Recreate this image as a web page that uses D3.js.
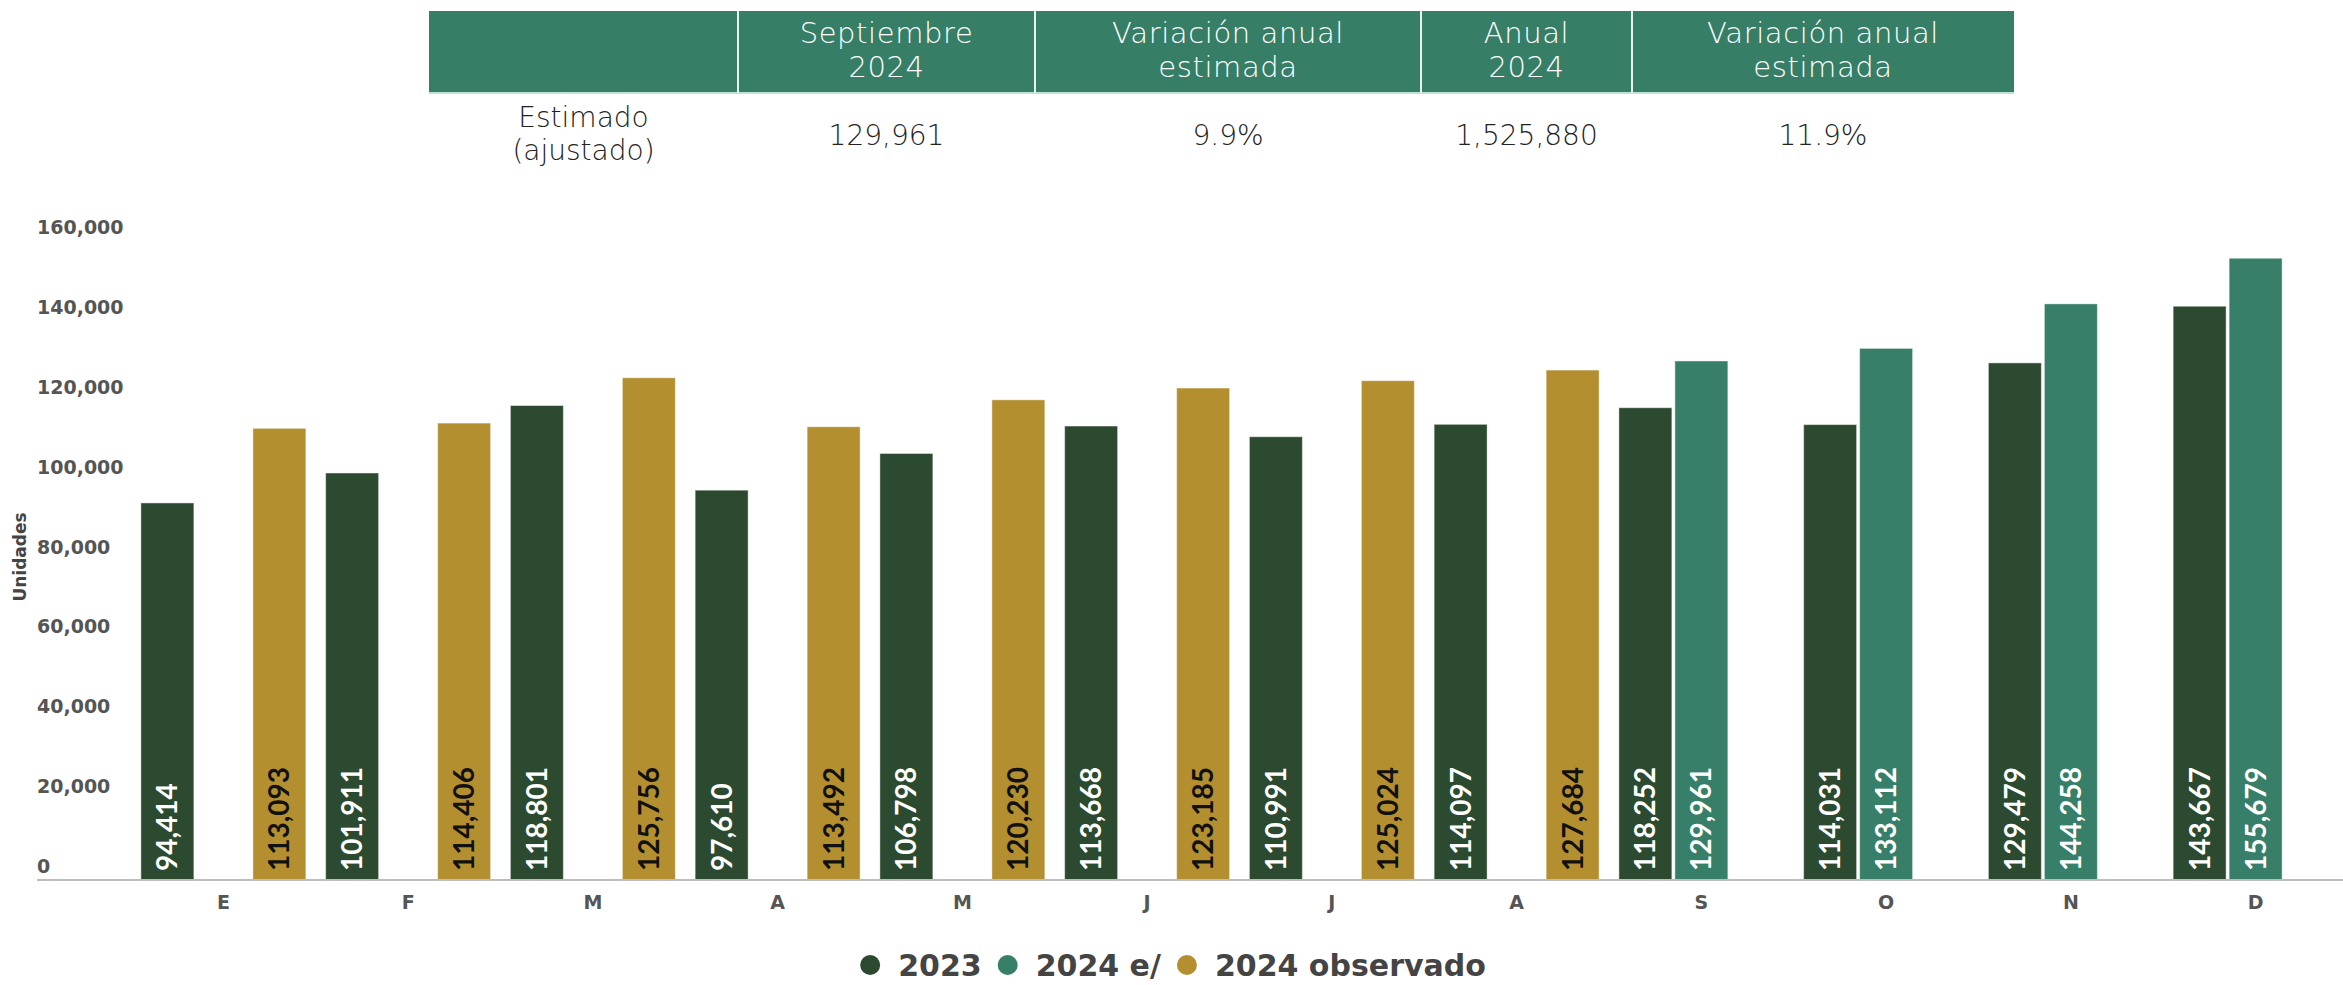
<!DOCTYPE html>
<html>
<head>
<meta charset="utf-8">
<script src="https://cdn.jsdelivr.net/npm/d3@7"></script>
<style>
  body { margin: 0; background: #fff; }
  svg { display: block; }
</style>
</head>
<body>
<div id="chart"></div>
<script>
const width = 2343;
const height = 985;

// data
const months = ["E", "F", "M", "A", "M", "J", "J", "A", "S", "O", "N", "D"];
const ventas2023 = [94414, 101911, 118801, 97610, 106798, 113668, 110991, 114097, 118252, 114031, 129479, 143667];
const ventas2024e = [null, null, null, null, null, null, null, null, 129961, 133112, 144258, 155679];
const ventas2024obs = [113093, 114406, 125756, 113492, 120230, 123185, 125024, 127684, null, null, null, null];
const yTicks = [0, 20000, 40000, 60000, 80000, 100000, 120000, 140000, 160000];

const tableHeader = [[""], ["Septiembre", "2024"], ["Variación anual", "estimada"], ["Anual", "2024"], ["Variación anual", "estimada"]];
const tableRow = [["Estimado", "(ajustado)"], ["129,961"], ["9.9%"], ["1,525,880"], ["11.9%"]];

const legendItems = [
  { key: "2023", label: "2023" },
  { key: "2024e", label: "2024 e/" },
  { key: "2024obs", label: "2024 observado" }
];

const colors = { "2023": "#2c4a2f", "2024e": "#377f68", "2024obs": "#b38f30" };
const labelColors = { "2023": "#fff", "2024e": "#fff", "2024obs": "#111" };

const keys = ["2023", "2024e", "2024obs"];
const rows = months.map((m, i) => ({
  i: i,
  month: m,
  "2023": ventas2023[i],
  "2024e": ventas2024e[i],
  "2024obs": ventas2024obs[i]
}));

const svg = d3.select("#chart")
  .append("svg")
  .attr("width", width)
  .attr("height", height);

// ---- summary table on top
const colEdges = [429, 738, 1035, 1421, 1632, 2014];
const table = svg.append("g").attr("class", "summary");

table.append("rect")
  .attr("x", colEdges[0])
  .attr("y", 11)
  .attr("width", colEdges[5] - colEdges[0])
  .attr("height", 82)
  .attr("fill", "#377e67");

table.append("line")
  .attr("x1", colEdges[0]).attr("x2", colEdges[5])
  .attr("y1", 93).attr("y2", 93)
  .attr("stroke", "#bfe3d2")
  .attr("stroke-width", 2);

table.selectAll(".sep")
  .data(colEdges.slice(1, 5))
  .enter().append("line")
  .attr("class", "sep")
  .attr("x1", d => d).attr("x2", d => d)
  .attr("y1", 11).attr("y2", 93)
  .attr("stroke", "#e8f3ee")
  .attr("stroke-width", 2);

tableHeader.forEach((lines, c) => {
  const cx = (colEdges[c] + colEdges[c + 1]) / 2;
  lines.forEach((t, k) => {
    table.append("text")
      .attr("x", cx)
      .attr("y", 43 + k * 34)
      .attr("text-anchor", "middle")
      .attr("font-family", "DejaVu Sans")
      .attr("font-weight", 200)
      .attr("font-size", 29)
      .attr("letter-spacing", 0.6)
      .attr("fill", "#fff")
      .text(t);
  });
});

tableRow.forEach((lines, c) => {
  const cx = (colEdges[c] + colEdges[c + 1]) / 2;
  const y0 = lines.length > 1 ? 127 : 145;
  lines.forEach((t, k) => {
    table.append("text")
      .attr("x", cx)
      .attr("y", y0 + k * 33)
      .attr("text-anchor", "middle")
      .attr("font-family", "DejaVu Sans")
      .attr("font-weight", 200)
      .attr("font-size", 28)
      .attr("fill", "#222")
      .text(t);
  });
});

// ---- bar chart
const baseY = 880;

const y = d3.scaleLinear()
  .domain([0, 160000])
  .range([baseY, 241]);

const x0 = d3.scaleBand()
  .domain(d3.range(months.length))
  .range([131, 2348])
  .padding(0);

const x1 = d3.scaleBand()
  .domain(keys)
  .range([x0.bandwidth() / 2 - 84, x0.bandwidth() / 2 + 84])
  .paddingInner(0.054)
  .paddingOuter(0.027);

// y tick labels (no gridlines in the original)
svg.append("g")
  .attr("class", "y-labels")
  .selectAll("text")
  .data(yTicks)
  .enter().append("text")
  .attr("x", 37)
  .attr("y", d => y(d) - 7)
  .attr("font-family", "DejaVu Sans")
  .attr("font-weight", "bold")
  .attr("font-size", 19)
  .attr("fill", "#555")
  .text(d => d3.format(",")(d));

svg.append("text")
  .attr("transform", "translate(26,557) rotate(-90)")
  .attr("text-anchor", "middle")
  .attr("font-family", "DejaVu Sans")
  .attr("font-weight", "bold")
  .attr("font-size", 17)
  .attr("fill", "#444")
  .text("Unidades");

// bars
const groups = svg.append("g")
  .attr("class", "bars")
  .selectAll("g")
  .data(rows)
  .enter().append("g")
  .attr("transform", d => `translate(${x0(d.i)},0)`);

const cells = groups.selectAll("g")
  .data(d => keys.filter(k => d[k] != null).map(k => ({ key: k, value: d[k] })))
  .enter().append("g");

cells.append("rect")
  .attr("x", d => x1(d.key))
  .attr("y", d => y(d.value))
  .attr("width", x1.bandwidth())
  .attr("height", d => baseY - y(d.value))
  .attr("fill", d => colors[d.key])
  .attr("stroke", "#ffffff")
  .attr("stroke-opacity", 0.45)
  .attr("stroke-width", 1);

cells.append("text")
  .attr("transform", d => `translate(${x1(d.key) + x1.bandwidth() / 2 + 10},${baseY - 9}) rotate(-90)`)
  .attr("font-family", "Lato")
  .attr("font-weight", "bold")
  .attr("font-size", 28)
  .attr("fill", d => labelColors[d.key])
  .text(d => d3.format(",")(d.value));

// baseline
svg.append("line")
  .attr("x1", 37).attr("x2", width)
  .attr("y1", baseY).attr("y2", baseY)
  .attr("stroke", "#bdbdbd")
  .attr("stroke-width", 2);

// month labels
const xAxis = d3.axisBottom(x0)
  .tickSize(0)
  .tickPadding(16)
  .tickFormat(i => months[i]);

const xg = svg.append("g")
  .attr("transform", `translate(0,${baseY})`)
  .call(xAxis);
xg.select(".domain").remove();
xg.selectAll("text")
  .attr("font-family", "DejaVu Sans")
  .attr("font-weight", "bold")
  .attr("font-size", 19)
  .attr("fill", "#555");

// ---- legend
const legend = svg.append("g").attr("class", "legend");
let cursor = 0;
legendItems.forEach((d, i) => {
  const item = legend.append("g").attr("transform", `translate(${cursor},0)`);
  item.append("circle")
    .attr("cx", 10)
    .attr("cy", -11)
    .attr("r", 10)
    .attr("fill", colors[d.key]);
  const t = item.append("text")
    .attr("x", 38)
    .attr("y", 0)
    .attr("font-family", "DejaVu Sans")
    .attr("font-weight", "bold")
    .attr("font-size", 30)
    .attr("fill", "#444")
    .text(d.label);
  cursor += 38 + t.node().getComputedTextLength() + 16;
});
const legendWidth = cursor - 16;
legend.attr("transform", `translate(${1173 - legendWidth / 2},976)`);
</script>
</body>
</html>
